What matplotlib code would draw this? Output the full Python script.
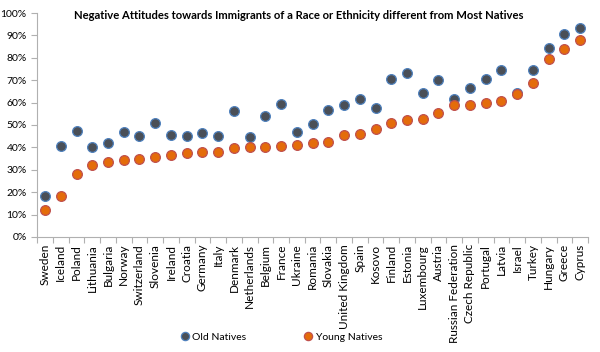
import matplotlib.pyplot as plt
from matplotlib.ticker import PercentFormatter

plt.rcParams['font.family'] = ['Lato', 'DejaVu Sans']

countries = ["Sweden", "Iceland", "Poland", "Lithuania", "Bulgaria", "Norway",
             "Switzerland", "Slovenia", "Ireland", "Croatia", "Germany", "Italy",
             "Denmark", "Netherlands", "Belgium", "France", "Ukraine", "Romania",
             "Slovakia", "United Kingdom", "Spain", "Kosovo", "Finland", "Estonia",
             "Luxembourg", "Austria", "Russian Federation", "Czech Republic",
             "Portugal", "Latvia", "Israel", "Turkey", "Hungary", "Greece", "Cyprus"]

old_natives = [18.1, 40.6, 47.5, 40.1, 41.8, 46.7, 45.2, 51.0, 45.6, 45.0, 46.4, 45.2,
               56.2, 44.7, 54.1, 59.4, 46.7, 50.5, 56.8, 58.7, 61.7, 57.4, 70.6, 73.3,
               64.2, 70.1, 61.7, 66.4, 70.4, 74.4, 64.2, 74.6, 84.2, 90.5, 93.2]

young_natives = [12.2, 18.3, 27.9, 32.1, 33.3, 34.3, 34.8, 35.5, 36.7, 37.3, 37.7, 37.9,
                 39.5, 40.1, 40.0, 40.4, 41.1, 42.1, 42.5, 45.3, 46.1, 48.4, 51.0, 52.2,
                 52.5, 55.4, 58.8, 59.0, 59.9, 60.8, 64.0, 68.8, 79.3, 84.1, 88.0]

fig = plt.figure(figsize=(6, 3.52), dpi=100)
ax = fig.add_axes([0.062, 0.327, 0.918, 0.636])

x = range(len(countries))
ax.plot(x, old_natives, 'o', markersize=7, markerfacecolor='#4a4f57',
        markeredgecolor='#4f81bd', markeredgewidth=0.9, label='Old Natives', zorder=3)
ax.plot(x, young_natives, 'o', markersize=7, markerfacecolor='#e46c0a',
        markeredgecolor='#c0504d', markeredgewidth=0.9, label='Young Natives', zorder=4)

ax.set_xlim(-0.5, len(countries) - 0.5)
ax.set_ylim(0, 100)
ax.set_yticks(range(0, 101, 10))
ax.yaxis.set_major_formatter(PercentFormatter(decimals=0))
# tick marks between categories, labels centred on each category
ax.set_xticks([i - 0.5 for i in range(len(countries) + 1)], minor=False)
ax.set_xticklabels([])
ax.set_xticks(list(x), minor=True)
ax.set_xticklabels(countries, minor=True, rotation=90, fontsize=8.5)
ax.tick_params(axis='x', which='minor', length=0, pad=5)
ax.tick_params(axis='x', which='major', length=4, color='#b0b0b0', direction='out')
ax.tick_params(axis='y', labelsize=7.5, length=4, color='#b0b0b0', direction='out')

for side in ['top', 'right']:
    ax.spines[side].set_visible(False)
for side in ['left', 'bottom']:
    ax.spines[side].set_color('#b0b0b0')

fig.text(0.498, 0.955, 'Negative Attitudes towards Immigrants of a Race or Ethnicity different from Most Natives',
         ha='center', va='center', fontsize=8.1, fontweight='bold')

fig.legend(loc='center', bbox_to_anchor=(0.469, 0.043), ncol=2, frameon=False,
           fontsize=7.5, handlelength=0.8, handletextpad=0.3, columnspacing=5.55,
           markerscale=0.85)

fig.savefig('out.png', dpi=100)
